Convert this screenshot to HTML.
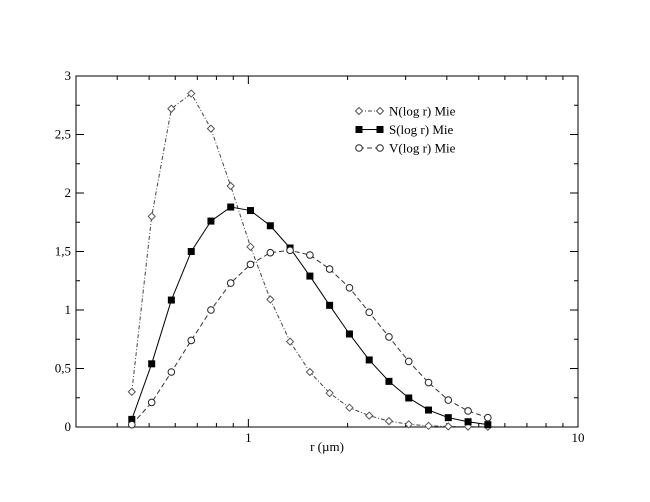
<!DOCTYPE html>
<html><head><meta charset="utf-8"><style>
html,body{margin:0;padding:0;background:#fff;}
svg{display:block;font-family:"Liberation Serif",serif;}
</style></head><body>
<svg id="chart" width="650" height="502" viewBox="0 0 650 502">
<rect x="0" y="0" width="650" height="502" fill="#fff"/>
<g id="axes"></g>
<g id="series"></g>
<g id="legend"></g>
</svg>
<script>
const radii = [0.443,0.509,0.584,0.671,0.770,0.884,1.015,1.166,1.338,1.537,1.764,2.026,2.326,2.670,3.066,3.520,4.041,4.640,5.327];
const nValues = [0.30,1.80,2.72,2.85,2.55,2.06,1.54,1.09,0.73,0.47,0.29,0.165,0.097,0.05,0.023,0.01,0.005,0.003,0.002];
const sValues = [0.065,0.54,1.085,1.50,1.76,1.88,1.85,1.72,1.53,1.29,1.04,0.795,0.573,0.39,0.248,0.145,0.08,0.045,0.02];
const vValues = [0.02,0.21,0.47,0.74,1.0,1.23,1.39,1.49,1.51,1.47,1.35,1.19,0.98,0.77,0.56,0.38,0.23,0.137,0.08];
const yTickValues = [0,0.5,1,1.5,2,2.5,3];
const yTickLabels = ["0","0,5","1","1,5","2","2,5","3"];
const xMajorValues = [1,10];
const xMajorLabels = ["1","10"];
const seriesNames = ["N(log r) Mie","S(log r) Mie","V(log r) Mie"];

const NS="http://www.w3.org/2000/svg";
const L=76,R=578,T=76,B=427;
const xMin=0.3,xMax=10,yMin=0,yMax=3;
function xs(v){return L+(Math.log10(v)-Math.log10(xMin))/(Math.log10(xMax)-Math.log10(xMin))*(R-L);}
function ys(v){return B-(v-yMin)/(yMax-yMin)*(B-T);}
function mk(tag,attrs,parent){const e=document.createElementNS(NS,tag);for(const k in attrs)e.setAttribute(k,attrs[k]);parent.appendChild(e);return e;}
const axes=document.getElementById('axes');
const frame=mk('rect',{x:L,y:T,width:R-L,height:B-T,fill:'none',stroke:'#000','stroke-width':1},axes);


yTickValues.forEach((v,i)=>{
  const y=ys(v);
  const t1=mk('line',{x1:L,x2:L+8,y1:y,y2:y,stroke:'#000'},axes);
  
  
  mk('line',{x1:R,x2:R-8,y1:y,y2:y,stroke:'#000'},axes);
  if(i<yTickValues.length-1){const ym=ys(v+0.25);
    mk('line',{x1:L,x2:L+4,y1:ym,y2:ym,stroke:'#000'},axes);
    mk('line',{x1:R,x2:R-4,y1:ym,y2:ym,stroke:'#000'},axes);}
  const tx=mk('text',{x:L-5,y:y+4,'text-anchor':'end','font-size':13},axes);
  tx.textContent=yTickLabels[i];
  
  
});
for(let d=0.1;d<10;d*=10){for(let k=1;k<10;k++){const v=+(k*d).toFixed(3);if(v<xMin||v>xMax)continue;
  const x=xs(v);const len=(k===1)?8:4;
  mk('line',{x1:x,x2:x,y1:B,y2:B-len,stroke:'#000'},axes);
  mk('line',{x1:x,x2:x,y1:T,y2:T+len,stroke:'#000'},axes);}}
xMajorValues.forEach((v,i)=>{
  const tx=mk('text',{x:xs(v),y:B+15,'text-anchor':'middle','font-size':13},axes);
  tx.textContent=xMajorLabels[i];
  
  
});
const xt=mk('text',{x:327,y:451,'text-anchor':'middle','font-size':13},axes);
xt.textContent="r (µm)";



const sg=document.getElementById('series');
function marker(type,x,y,parent){
  let e;
  if(type==='diamond') e=mk('path',{d:`M${x} ${y-3.5}L${x+3.5} ${y}L${x} ${y+3.5}L${x-3.5} ${y}Z`,fill:'#fff',stroke:'#555','stroke-width':1},parent);
  else if(type==='square') e=mk('rect',{x:x-3.5,y:y-3.5,width:7,height:7,fill:'#000'},parent);
  else e=mk('circle',{cx:x,cy:y,r:3.3,fill:'#fff',stroke:'#222','stroke-width':1},parent);
  return e;
}
const defs=[[nValues,'diamond','4,2,1,2','#444','series-n'],[sValues,'square','','#000','series-s'],[vValues,'circle','5,3','#333','series-v']];
defs.forEach(([vals,type,dash,col,name])=>{
  const g=mk('g',{},sg);
  
  
  const pts=vals.map((v,i)=>xs(radii[i])+','+ys(v)).join(' ');
  const pl=mk('polyline',{points:pts,fill:'none',stroke:col,'stroke-width':1,'stroke-dasharray':dash},g);
  
  
  vals.forEach((v,i)=>{const m=marker(type,xs(radii[i]),ys(v),g);
    
    });
});
const lg=document.getElementById('legend');
defs.forEach(([vals,type,dash,col,name],i)=>{
  const y=111+i*18.5;
  const g=mk('g',{},lg);
  
  
  mk('line',{x1:359,x2:380,y1:y,y2:y,stroke:col,'stroke-dasharray':dash},g);
  marker(type,359,y,g);marker(type,380,y,g);
  const t=mk('text',{x:389,y:y+4.5,'font-size':13},g);
  t.textContent=seriesNames[i];
});
</script>
</body></html>
